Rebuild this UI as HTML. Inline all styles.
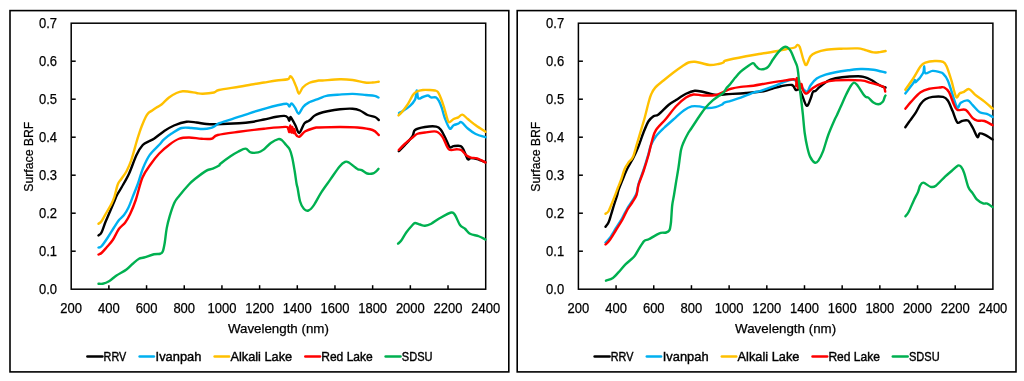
<!DOCTYPE html>
<html><head><meta charset="utf-8"><style>
html,body{margin:0;padding:0;background:#fff;width:1024px;height:381px;overflow:hidden}
svg{display:block;will-change:transform}
text{font-family:"Liberation Sans", sans-serif;font-size:13px;fill:#000;stroke:#000;stroke-width:0.25px}
text.t{font-size:14.2px}
text.lg{stroke-width:0.4px}
</style></head><body>
<svg width="1024" height="381" viewBox="0 0 1024 381">
<rect width="1024" height="381" fill="#fff"/>
<rect x="10.0" y="10.6" width="498.8" height="361.3" fill="none" stroke="#000" stroke-width="1.6"/>
<rect x="71.2" y="23.2" width="414.5" height="266.0" fill="none" stroke="#000" stroke-width="1.5"/>
<text class="t" x="57.0" y="294.10" text-anchor="end" textLength="18.1" lengthAdjust="spacingAndGlyphs">0.0</text>
<line x1="71.2" y1="251.20" x2="75.7" y2="251.20" stroke="#000" stroke-width="1.5"/>
<text class="t" x="57.0" y="256.10" text-anchor="end" textLength="18.1" lengthAdjust="spacingAndGlyphs">0.1</text>
<line x1="71.2" y1="213.20" x2="75.7" y2="213.20" stroke="#000" stroke-width="1.5"/>
<text class="t" x="57.0" y="218.10" text-anchor="end" textLength="18.1" lengthAdjust="spacingAndGlyphs">0.2</text>
<line x1="71.2" y1="175.20" x2="75.7" y2="175.20" stroke="#000" stroke-width="1.5"/>
<text class="t" x="57.0" y="180.10" text-anchor="end" textLength="18.1" lengthAdjust="spacingAndGlyphs">0.3</text>
<line x1="71.2" y1="137.20" x2="75.7" y2="137.20" stroke="#000" stroke-width="1.5"/>
<text class="t" x="57.0" y="142.10" text-anchor="end" textLength="18.1" lengthAdjust="spacingAndGlyphs">0.4</text>
<line x1="71.2" y1="99.20" x2="75.7" y2="99.20" stroke="#000" stroke-width="1.5"/>
<text class="t" x="57.0" y="104.10" text-anchor="end" textLength="18.1" lengthAdjust="spacingAndGlyphs">0.5</text>
<line x1="71.2" y1="61.20" x2="75.7" y2="61.20" stroke="#000" stroke-width="1.5"/>
<text class="t" x="57.0" y="66.10" text-anchor="end" textLength="18.1" lengthAdjust="spacingAndGlyphs">0.6</text>
<text class="t" x="57.0" y="28.10" text-anchor="end" textLength="18.1" lengthAdjust="spacingAndGlyphs">0.7</text>
<text class="t" x="71.20" y="312.9" text-anchor="middle" textLength="21.7" lengthAdjust="spacingAndGlyphs">200</text>
<line x1="108.88" y1="289.2" x2="108.88" y2="285.2" stroke="#000" stroke-width="1.5"/>
<text class="t" x="108.88" y="312.9" text-anchor="middle" textLength="21.7" lengthAdjust="spacingAndGlyphs">400</text>
<line x1="146.56" y1="289.2" x2="146.56" y2="285.2" stroke="#000" stroke-width="1.5"/>
<text class="t" x="146.56" y="312.9" text-anchor="middle" textLength="21.7" lengthAdjust="spacingAndGlyphs">600</text>
<line x1="184.25" y1="289.2" x2="184.25" y2="285.2" stroke="#000" stroke-width="1.5"/>
<text class="t" x="184.25" y="312.9" text-anchor="middle" textLength="21.7" lengthAdjust="spacingAndGlyphs">800</text>
<line x1="221.93" y1="289.2" x2="221.93" y2="285.2" stroke="#000" stroke-width="1.5"/>
<text class="t" x="221.93" y="312.9" text-anchor="middle" textLength="28.9" lengthAdjust="spacingAndGlyphs">1000</text>
<line x1="259.61" y1="289.2" x2="259.61" y2="285.2" stroke="#000" stroke-width="1.5"/>
<text class="t" x="259.61" y="312.9" text-anchor="middle" textLength="28.9" lengthAdjust="spacingAndGlyphs">1200</text>
<line x1="297.29" y1="289.2" x2="297.29" y2="285.2" stroke="#000" stroke-width="1.5"/>
<text class="t" x="297.29" y="312.9" text-anchor="middle" textLength="28.9" lengthAdjust="spacingAndGlyphs">1400</text>
<line x1="334.97" y1="289.2" x2="334.97" y2="285.2" stroke="#000" stroke-width="1.5"/>
<text class="t" x="334.97" y="312.9" text-anchor="middle" textLength="28.9" lengthAdjust="spacingAndGlyphs">1600</text>
<line x1="372.65" y1="289.2" x2="372.65" y2="285.2" stroke="#000" stroke-width="1.5"/>
<text class="t" x="372.65" y="312.9" text-anchor="middle" textLength="28.9" lengthAdjust="spacingAndGlyphs">1800</text>
<line x1="410.34" y1="289.2" x2="410.34" y2="285.2" stroke="#000" stroke-width="1.5"/>
<text class="t" x="410.34" y="312.9" text-anchor="middle" textLength="28.9" lengthAdjust="spacingAndGlyphs">2000</text>
<line x1="448.02" y1="289.2" x2="448.02" y2="285.2" stroke="#000" stroke-width="1.5"/>
<text class="t" x="448.02" y="312.9" text-anchor="middle" textLength="28.9" lengthAdjust="spacingAndGlyphs">2200</text>
<text class="t" x="485.70" y="312.9" text-anchor="middle" textLength="28.9" lengthAdjust="spacingAndGlyphs">2400</text>
<text x="278.4" y="332.9" text-anchor="middle" textLength="101" lengthAdjust="spacingAndGlyphs">Wavelength (nm)</text>
<text transform="translate(33.0,156.7) rotate(-90)" text-anchor="middle" textLength="70" lengthAdjust="spacingAndGlyphs">Surface BRF</text>
<line x1="87.40" y1="356.5" x2="102.40" y2="356.5" stroke="#000000" stroke-width="2.5" stroke-linecap="round"/>
<text class="lg" x="103.6" y="361.0" textLength="22.6" lengthAdjust="spacingAndGlyphs">RRV</text>
<line x1="139.60" y1="356.5" x2="153.90" y2="356.5" stroke="#00B0F0" stroke-width="2.5" stroke-linecap="round"/>
<text class="lg" x="155.6" y="361.0" textLength="45.8" lengthAdjust="spacingAndGlyphs">Ivanpah</text>
<line x1="214.60" y1="356.5" x2="229.10" y2="356.5" stroke="#FFC000" stroke-width="2.5" stroke-linecap="round"/>
<text class="lg" x="230.4" y="361.0" textLength="61.8" lengthAdjust="spacingAndGlyphs">Alkali Lake</text>
<line x1="305.30" y1="356.5" x2="320.00" y2="356.5" stroke="#FF0000" stroke-width="2.5" stroke-linecap="round"/>
<text class="lg" x="321.2" y="361.0" textLength="51.6" lengthAdjust="spacingAndGlyphs">Red Lake</text>
<line x1="385.60" y1="356.5" x2="400.50" y2="356.5" stroke="#00B050" stroke-width="2.5" stroke-linecap="round"/>
<text class="lg" x="401.8" y="361.0" textLength="30.7" lengthAdjust="spacingAndGlyphs">SDSU</text>
<path d="M98.50 235.50 C99.00 235.00 100.38 234.67 101.50 232.50 C102.62 230.33 104.00 225.62 105.25 222.50 C106.50 219.38 107.75 216.67 109.00 213.75 C110.25 210.83 111.77 207.29 112.75 205.00 C113.73 202.71 114.19 201.67 114.90 200.00 C115.61 198.33 115.90 197.08 117.00 195.00 C118.10 192.92 119.50 191.04 121.50 187.50 C123.50 183.96 126.50 179.17 129.00 173.75 C131.50 168.33 134.21 159.79 136.50 155.00 C138.79 150.21 140.67 147.29 142.75 145.00 C144.83 142.71 147.12 142.29 149.00 141.25 C150.88 140.21 151.50 140.42 154.00 138.75 C156.50 137.08 160.67 133.46 164.00 131.25 C167.33 129.04 170.25 127.08 174.00 125.50 C177.75 123.92 182.75 122.25 186.50 121.75 C190.25 121.25 193.17 122.12 196.50 122.50 C199.83 122.88 203.17 123.71 206.50 124.00 C209.83 124.29 211.08 124.38 216.50 124.25 C221.92 124.12 233.17 123.62 239.00 123.25 C244.83 122.88 247.33 122.62 251.50 122.00 C255.67 121.38 259.83 120.38 264.00 119.50 C268.17 118.62 273.12 117.35 276.50 116.75 C279.88 116.15 282.43 115.78 284.30 115.90 C286.17 116.03 286.87 116.68 287.70 117.50 C288.53 118.32 288.85 120.88 289.30 120.80 C289.75 120.72 289.95 117.27 290.40 117.00 C290.85 116.73 291.15 117.78 292.00 119.20 C292.85 120.62 294.30 123.20 295.50 125.50 C296.70 127.80 297.75 133.32 299.20 133.00 C300.65 132.68 302.82 125.53 304.20 123.60 C305.58 121.67 306.58 121.95 307.50 121.40 C308.42 120.85 308.58 121.22 309.70 120.30 C310.82 119.38 312.65 117.03 314.20 115.90 C315.75 114.77 316.78 114.28 319.00 113.50 C321.22 112.72 324.00 111.96 327.50 111.25 C331.00 110.54 335.83 109.67 340.00 109.25 C344.17 108.83 349.17 108.54 352.50 108.75 C355.83 108.96 357.50 109.46 360.00 110.50 C362.50 111.54 365.00 113.92 367.50 115.00 C370.00 116.08 373.12 116.17 375.00 117.00 C376.88 117.83 378.12 119.50 378.75 120.00" fill="none" stroke="#000000" stroke-width="2.4" stroke-linejoin="round" stroke-linecap="round"/>
<path d="M398.75 151.25 C399.79 150.21 402.71 147.50 405.00 145.00 C407.29 142.50 410.83 138.75 412.50 136.25 C414.17 133.75 412.92 131.54 415.00 130.00 C417.08 128.46 421.45 127.57 425.00 127.00 C428.55 126.43 433.63 126.10 436.30 126.60 C438.97 127.10 439.43 127.98 441.00 130.00 C442.57 132.02 444.25 135.85 445.70 138.70 C447.15 141.55 448.38 145.87 449.70 147.10 C451.02 148.33 451.77 146.27 453.60 146.10 C455.43 145.93 458.98 145.37 460.70 146.10 C462.42 146.83 462.72 148.32 463.90 150.50 C465.08 152.68 466.63 157.93 467.80 159.20 C468.97 160.47 469.33 158.10 470.90 158.10 C472.47 158.10 474.77 158.48 477.20 159.20 C479.63 159.92 484.12 161.87 485.50 162.40" fill="none" stroke="#000000" stroke-width="2.4" stroke-linejoin="round" stroke-linecap="round"/>
<path d="M98.50 247.50 C99.00 247.29 99.96 247.92 101.50 246.25 C103.04 244.58 105.67 240.62 107.75 237.50 C109.83 234.38 112.12 230.42 114.00 227.50 C115.88 224.58 117.33 222.08 119.00 220.00 C120.67 217.92 122.42 217.08 124.00 215.00 C125.58 212.92 127.07 210.48 128.50 207.50 C129.93 204.52 131.05 201.02 132.60 197.10 C134.15 193.18 136.07 188.82 137.80 184.00 C139.53 179.18 141.03 173.02 143.00 168.20 C144.97 163.38 146.93 158.97 149.60 155.10 C152.27 151.23 156.60 147.62 159.00 145.00 C161.40 142.38 161.90 141.30 164.00 139.40 C166.10 137.50 168.67 135.50 171.60 133.60 C174.53 131.70 178.25 128.93 181.60 128.00 C184.95 127.07 188.12 127.83 191.70 128.00 C195.28 128.17 199.85 129.03 203.10 129.00 C206.35 128.97 209.27 128.28 211.20 127.80 C213.13 127.32 213.35 126.87 214.70 126.10 C216.05 125.33 216.42 124.37 219.30 123.20 C222.18 122.03 226.98 120.75 232.00 119.10 C237.02 117.45 243.62 115.13 249.40 113.30 C255.18 111.47 262.17 109.40 266.70 108.10 C271.23 106.80 273.28 106.23 276.60 105.50 C279.92 104.77 284.48 103.53 286.60 103.70 C288.72 103.87 288.57 106.50 289.30 106.50 C290.03 106.50 290.45 104.07 291.00 103.70 C291.55 103.33 291.85 103.50 292.60 104.30 C293.35 105.10 294.48 106.93 295.50 108.50 C296.52 110.07 297.43 113.95 298.70 113.70 C299.97 113.45 301.45 108.85 303.10 107.00 C304.75 105.15 305.95 104.00 308.60 102.60 C311.25 101.20 316.03 99.72 319.00 98.60 C321.97 97.48 322.98 96.57 326.40 95.90 C329.82 95.23 335.12 94.93 339.50 94.60 C343.88 94.27 348.30 93.83 352.70 93.90 C357.10 93.97 362.23 94.67 365.90 95.00 C369.57 95.33 372.60 95.48 374.70 95.90 C376.80 96.32 377.87 97.23 378.50 97.50" fill="none" stroke="#00B0F0" stroke-width="2.4" stroke-linejoin="round" stroke-linecap="round"/>
<path d="M399.00 113.00 C399.67 112.65 401.17 112.08 403.00 110.90 C404.83 109.72 408.02 107.73 410.00 105.90 C411.98 104.07 413.87 101.88 414.90 99.90 C415.93 97.92 415.87 95.57 416.20 94.00 C416.53 92.43 416.53 89.77 416.90 90.50 C417.27 91.23 417.40 97.32 418.40 98.40 C419.40 99.48 421.32 97.48 422.90 97.00 C424.48 96.52 426.57 95.43 427.90 95.50 C429.23 95.57 429.57 97.08 430.90 97.40 C432.23 97.72 434.57 96.82 435.90 97.40 C437.23 97.98 437.92 99.15 438.90 100.90 C439.88 102.65 440.82 105.05 441.80 107.90 C442.78 110.75 443.48 114.57 444.80 118.00 C446.12 121.43 448.23 127.28 449.70 128.50 C451.17 129.72 452.17 126.10 453.60 125.30 C455.03 124.50 456.98 124.22 458.30 123.70 C459.62 123.18 459.92 121.40 461.50 122.20 C463.08 123.00 465.43 126.53 467.80 128.50 C470.17 130.47 472.75 132.55 475.70 134.00 C478.65 135.45 483.87 136.67 485.50 137.20" fill="none" stroke="#00B0F0" stroke-width="2.4" stroke-linejoin="round" stroke-linecap="round"/>
<path d="M98.50 223.75 C99.00 223.33 100.17 223.12 101.50 221.25 C102.83 219.38 104.83 215.42 106.50 212.50 C108.17 209.58 110.17 206.42 111.50 203.75 C112.83 201.08 113.46 199.71 114.50 196.50 C115.54 193.29 116.58 187.46 117.75 184.50 C118.92 181.54 120.04 180.96 121.50 178.75 C122.96 176.54 124.88 174.31 126.50 171.25 C128.12 168.19 129.53 165.28 131.20 160.40 C132.87 155.53 135.20 146.40 136.50 142.00 C137.80 137.60 138.13 136.63 139.00 134.00 C139.87 131.37 140.58 129.03 141.70 126.20 C142.82 123.37 144.60 119.18 145.70 117.00 C146.80 114.82 147.22 114.18 148.30 113.10 C149.38 112.02 150.83 111.43 152.20 110.50 C153.57 109.57 154.95 108.50 156.50 107.50 C158.05 106.50 159.42 106.17 161.50 104.50 C163.58 102.83 166.50 99.42 169.00 97.50 C171.50 95.58 174.21 94.04 176.50 93.00 C178.79 91.96 180.67 91.46 182.75 91.25 C184.83 91.04 186.71 91.46 189.00 91.75 C191.29 92.04 194.21 92.67 196.50 93.00 C198.79 93.33 199.83 93.83 202.75 93.75 C205.67 93.67 211.29 93.12 214.00 92.50 C216.71 91.88 214.83 90.96 219.00 90.00 C223.17 89.04 233.58 87.67 239.00 86.75 C244.42 85.83 247.33 85.21 251.50 84.50 C255.67 83.79 259.83 83.17 264.00 82.50 C268.17 81.83 272.54 81.04 276.50 80.50 C280.46 79.96 285.46 79.96 287.75 79.25 C290.04 78.54 289.42 76.33 290.25 76.25 C291.08 76.17 291.71 76.88 292.75 78.75 C293.79 80.62 295.46 85.00 296.50 87.50 C297.54 90.00 297.96 93.75 299.00 93.75 C300.04 93.75 301.08 89.29 302.75 87.50 C304.42 85.71 306.29 84.17 309.00 83.00 C311.71 81.83 316.75 80.92 319.00 80.50 C321.25 80.08 319.00 80.71 322.50 80.50 C326.00 80.29 335.00 79.33 340.00 79.25 C345.00 79.17 348.33 79.46 352.50 80.00 C356.67 80.54 361.67 82.08 365.00 82.50 C368.33 82.92 370.21 82.62 372.50 82.50 C374.79 82.38 377.71 81.88 378.75 81.75" fill="none" stroke="#FFC000" stroke-width="2.4" stroke-linejoin="round" stroke-linecap="round"/>
<path d="M398.50 115.40 C399.08 114.82 400.42 113.82 402.00 111.90 C403.58 109.98 406.18 106.72 408.00 103.90 C409.82 101.08 411.42 97.07 412.90 95.00 C414.38 92.93 415.23 92.33 416.90 91.50 C418.57 90.67 420.73 90.25 422.90 90.00 C425.07 89.75 427.90 89.92 429.90 90.00 C431.90 90.08 433.57 90.17 434.90 90.50 C436.23 90.83 436.92 90.75 437.90 92.00 C438.88 93.25 439.82 95.58 440.80 98.00 C441.78 100.42 442.85 103.50 443.80 106.50 C444.75 109.50 445.65 113.38 446.50 116.00 C447.35 118.62 447.72 121.70 448.90 122.20 C450.08 122.70 452.03 119.80 453.60 119.00 C455.17 118.20 456.85 118.13 458.30 117.40 C459.75 116.67 460.72 114.33 462.30 114.60 C463.88 114.87 465.57 117.22 467.80 119.00 C470.03 120.78 472.75 123.17 475.70 125.30 C478.65 127.43 483.87 130.72 485.50 131.80" fill="none" stroke="#FFC000" stroke-width="2.4" stroke-linejoin="round" stroke-linecap="round"/>
<path d="M98.50 254.50 C99.00 254.25 100.17 254.17 101.50 253.00 C102.83 251.83 104.62 249.67 106.50 247.50 C108.38 245.33 110.67 243.12 112.75 240.00 C114.83 236.88 116.92 231.67 119.00 228.75 C121.08 225.83 123.38 225.00 125.25 222.50 C127.12 220.00 128.50 217.50 130.25 213.75 C132.00 210.00 133.71 206.04 135.75 200.00 C137.79 193.96 140.04 183.42 142.50 177.50 C144.96 171.58 147.75 168.46 150.50 164.50 C153.25 160.54 155.92 157.00 159.00 153.75 C162.08 150.50 165.67 147.50 169.00 145.00 C172.33 142.50 175.67 140.00 179.00 138.75 C182.33 137.50 185.25 137.50 189.00 137.50 C192.75 137.50 197.75 138.54 201.50 138.75 C205.25 138.96 208.79 139.38 211.50 138.75 C214.21 138.12 213.17 136.17 217.75 135.00 C222.33 133.83 231.29 132.79 239.00 131.75 C246.71 130.71 256.25 129.56 264.00 128.75 C271.75 127.94 281.47 126.84 285.50 126.90 C289.53 126.96 287.57 128.25 288.20 129.10 C288.83 129.95 288.93 132.60 289.30 132.00 C289.67 131.40 290.05 125.42 290.40 125.50 C290.75 125.58 291.07 132.25 291.40 132.50 C291.73 132.75 292.07 126.92 292.40 127.00 C292.73 127.08 293.07 132.67 293.40 133.00 C293.73 133.33 294.05 128.83 294.40 129.00 C294.75 129.17 294.70 132.70 295.50 134.00 C296.30 135.30 297.57 137.25 299.20 136.80 C300.83 136.35 302.80 132.77 305.30 131.30 C307.80 129.83 311.92 128.63 314.20 128.00 C316.48 127.37 314.70 127.67 319.00 127.50 C323.30 127.33 333.58 127.00 340.00 127.00 C346.42 127.00 352.08 127.00 357.50 127.50 C362.92 128.00 368.96 128.75 372.50 130.00 C376.04 131.25 377.71 134.17 378.75 135.00" fill="none" stroke="#FF0000" stroke-width="2.4" stroke-linejoin="round" stroke-linecap="round"/>
<path d="M398.75 150.00 C399.79 148.96 402.71 145.83 405.00 143.75 C407.29 141.67 410.42 139.17 412.50 137.50 C414.58 135.83 415.42 134.58 417.50 133.75 C419.58 132.92 421.87 132.86 425.00 132.50 C428.13 132.14 433.37 130.83 436.30 131.60 C439.23 132.37 440.50 134.15 442.60 137.10 C444.70 140.05 446.53 147.27 448.90 149.30 C451.27 151.33 454.70 149.15 456.80 149.30 C458.90 149.45 459.93 149.22 461.50 150.20 C463.07 151.18 464.63 153.97 466.20 155.20 C467.77 156.43 469.07 157.07 470.90 157.60 C472.73 158.13 474.77 157.60 477.20 158.40 C479.63 159.20 484.12 161.73 485.50 162.40" fill="none" stroke="#FF0000" stroke-width="2.4" stroke-linejoin="round" stroke-linecap="round"/>
<path d="M98.50 283.75 C99.21 283.75 101.00 284.17 102.75 283.75 C104.50 283.33 106.71 282.62 109.00 281.25 C111.29 279.88 113.58 277.46 116.50 275.50 C119.42 273.54 123.79 271.46 126.50 269.50 C129.21 267.54 130.67 265.54 132.75 263.75 C134.83 261.96 137.12 259.79 139.00 258.75 C140.88 257.71 141.50 258.25 144.00 257.50 C146.50 256.75 151.29 254.88 154.00 254.25 C156.71 253.62 158.79 254.21 160.25 253.75 C161.71 253.29 162.01 253.29 162.75 251.50 C163.49 249.71 164.04 246.85 164.70 243.00 C165.36 239.15 165.87 232.88 166.70 228.40 C167.53 223.92 168.40 220.42 169.70 216.10 C171.00 211.78 172.87 205.93 174.50 202.50 C176.13 199.07 177.10 198.50 179.50 195.50 C181.90 192.50 186.28 187.28 188.90 184.50 C191.52 181.72 192.27 181.12 195.20 178.80 C198.13 176.48 203.57 172.28 206.50 170.60 C209.43 168.92 210.70 169.53 212.80 168.70 C214.90 167.87 217.83 166.43 219.10 165.60 C220.37 164.77 218.50 165.27 220.40 163.70 C222.30 162.13 227.57 158.20 230.50 156.20 C233.43 154.20 235.48 152.97 238.00 151.70 C240.52 150.43 243.50 148.48 245.60 148.60 C247.70 148.72 248.50 151.77 250.60 152.40 C252.70 153.03 256.10 152.82 258.20 152.40 C260.30 151.98 261.10 151.48 263.20 149.90 C265.30 148.32 268.28 144.70 270.80 142.90 C273.32 141.10 276.42 139.52 278.30 139.10 C280.18 138.68 280.83 139.45 282.10 140.40 C283.37 141.35 284.65 143.33 285.90 144.80 C287.15 146.27 288.55 147.10 289.60 149.20 C290.65 151.30 291.35 153.72 292.20 157.40 C293.05 161.08 293.97 166.87 294.70 171.30 C295.43 175.73 296.12 181.22 296.60 184.00 C297.08 186.78 297.02 185.08 297.60 188.00 C298.18 190.92 299.07 198.03 300.10 201.50 C301.13 204.97 302.42 207.30 303.80 208.80 C305.18 210.30 306.72 211.12 308.40 210.50 C310.08 209.88 311.75 208.13 313.90 205.10 C316.05 202.07 318.55 196.58 321.30 192.30 C324.05 188.02 327.35 183.70 330.40 179.40 C333.45 175.10 337.15 169.42 339.60 166.50 C342.05 163.58 343.57 162.57 345.10 161.90 C346.63 161.23 347.15 161.60 348.80 162.50 C350.45 163.40 353.47 166.17 355.00 167.30 C356.53 168.43 356.88 168.82 358.00 169.30 C359.12 169.78 360.17 169.50 361.70 170.20 C363.23 170.90 365.37 172.95 367.20 173.50 C369.03 174.05 371.17 173.90 372.70 173.50 C374.23 173.10 375.43 171.88 376.40 171.10 C377.37 170.32 378.15 169.18 378.50 168.80" fill="none" stroke="#00B050" stroke-width="2.4" stroke-linejoin="round" stroke-linecap="round"/>
<path d="M398.00 243.75 C398.54 243.21 399.88 242.38 401.25 240.50 C402.62 238.62 404.38 235.08 406.25 232.50 C408.12 229.92 411.04 226.58 412.50 225.00 C413.96 223.42 413.75 223.08 415.00 223.00 C416.25 222.92 418.33 224.04 420.00 224.50 C421.67 224.96 423.12 225.88 425.00 225.75 C426.88 225.62 428.75 225.04 431.25 223.75 C433.75 222.46 436.67 219.88 440.00 218.00 C443.33 216.12 448.75 213.00 451.25 212.50 C453.75 212.00 453.54 212.92 455.00 215.00 C456.46 217.08 458.33 222.71 460.00 225.00 C461.67 227.29 463.33 227.29 465.00 228.75 C466.67 230.21 467.71 232.50 470.00 233.75 C472.29 235.00 476.17 235.29 478.75 236.25 C481.33 237.21 484.38 238.96 485.50 239.50" fill="none" stroke="#00B050" stroke-width="2.4" stroke-linejoin="round" stroke-linecap="round"/>
<rect x="517.2" y="10.6" width="498.8" height="361.3" fill="none" stroke="#000" stroke-width="1.6"/>
<rect x="578.4" y="23.2" width="414.5" height="266.0" fill="none" stroke="#000" stroke-width="1.5"/>
<text class="t" x="564.2" y="294.10" text-anchor="end" textLength="18.1" lengthAdjust="spacingAndGlyphs">0.0</text>
<line x1="578.4" y1="251.20" x2="582.9" y2="251.20" stroke="#000" stroke-width="1.5"/>
<text class="t" x="564.2" y="256.10" text-anchor="end" textLength="18.1" lengthAdjust="spacingAndGlyphs">0.1</text>
<line x1="578.4" y1="213.20" x2="582.9" y2="213.20" stroke="#000" stroke-width="1.5"/>
<text class="t" x="564.2" y="218.10" text-anchor="end" textLength="18.1" lengthAdjust="spacingAndGlyphs">0.2</text>
<line x1="578.4" y1="175.20" x2="582.9" y2="175.20" stroke="#000" stroke-width="1.5"/>
<text class="t" x="564.2" y="180.10" text-anchor="end" textLength="18.1" lengthAdjust="spacingAndGlyphs">0.3</text>
<line x1="578.4" y1="137.20" x2="582.9" y2="137.20" stroke="#000" stroke-width="1.5"/>
<text class="t" x="564.2" y="142.10" text-anchor="end" textLength="18.1" lengthAdjust="spacingAndGlyphs">0.4</text>
<line x1="578.4" y1="99.20" x2="582.9" y2="99.20" stroke="#000" stroke-width="1.5"/>
<text class="t" x="564.2" y="104.10" text-anchor="end" textLength="18.1" lengthAdjust="spacingAndGlyphs">0.5</text>
<line x1="578.4" y1="61.20" x2="582.9" y2="61.20" stroke="#000" stroke-width="1.5"/>
<text class="t" x="564.2" y="66.10" text-anchor="end" textLength="18.1" lengthAdjust="spacingAndGlyphs">0.6</text>
<text class="t" x="564.2" y="28.10" text-anchor="end" textLength="18.1" lengthAdjust="spacingAndGlyphs">0.7</text>
<text class="t" x="578.40" y="312.9" text-anchor="middle" textLength="21.7" lengthAdjust="spacingAndGlyphs">200</text>
<line x1="616.08" y1="289.2" x2="616.08" y2="285.2" stroke="#000" stroke-width="1.5"/>
<text class="t" x="616.08" y="312.9" text-anchor="middle" textLength="21.7" lengthAdjust="spacingAndGlyphs">400</text>
<line x1="653.76" y1="289.2" x2="653.76" y2="285.2" stroke="#000" stroke-width="1.5"/>
<text class="t" x="653.76" y="312.9" text-anchor="middle" textLength="21.7" lengthAdjust="spacingAndGlyphs">600</text>
<line x1="691.45" y1="289.2" x2="691.45" y2="285.2" stroke="#000" stroke-width="1.5"/>
<text class="t" x="691.45" y="312.9" text-anchor="middle" textLength="21.7" lengthAdjust="spacingAndGlyphs">800</text>
<line x1="729.13" y1="289.2" x2="729.13" y2="285.2" stroke="#000" stroke-width="1.5"/>
<text class="t" x="729.13" y="312.9" text-anchor="middle" textLength="28.9" lengthAdjust="spacingAndGlyphs">1000</text>
<line x1="766.81" y1="289.2" x2="766.81" y2="285.2" stroke="#000" stroke-width="1.5"/>
<text class="t" x="766.81" y="312.9" text-anchor="middle" textLength="28.9" lengthAdjust="spacingAndGlyphs">1200</text>
<line x1="804.49" y1="289.2" x2="804.49" y2="285.2" stroke="#000" stroke-width="1.5"/>
<text class="t" x="804.49" y="312.9" text-anchor="middle" textLength="28.9" lengthAdjust="spacingAndGlyphs">1400</text>
<line x1="842.17" y1="289.2" x2="842.17" y2="285.2" stroke="#000" stroke-width="1.5"/>
<text class="t" x="842.17" y="312.9" text-anchor="middle" textLength="28.9" lengthAdjust="spacingAndGlyphs">1600</text>
<line x1="879.85" y1="289.2" x2="879.85" y2="285.2" stroke="#000" stroke-width="1.5"/>
<text class="t" x="879.85" y="312.9" text-anchor="middle" textLength="28.9" lengthAdjust="spacingAndGlyphs">1800</text>
<line x1="917.54" y1="289.2" x2="917.54" y2="285.2" stroke="#000" stroke-width="1.5"/>
<text class="t" x="917.54" y="312.9" text-anchor="middle" textLength="28.9" lengthAdjust="spacingAndGlyphs">2000</text>
<line x1="955.22" y1="289.2" x2="955.22" y2="285.2" stroke="#000" stroke-width="1.5"/>
<text class="t" x="955.22" y="312.9" text-anchor="middle" textLength="28.9" lengthAdjust="spacingAndGlyphs">2200</text>
<text class="t" x="992.90" y="312.9" text-anchor="middle" textLength="28.9" lengthAdjust="spacingAndGlyphs">2400</text>
<text x="785.5999999999999" y="332.9" text-anchor="middle" textLength="101" lengthAdjust="spacingAndGlyphs">Wavelength (nm)</text>
<text transform="translate(540.2,156.7) rotate(-90)" text-anchor="middle" textLength="70" lengthAdjust="spacingAndGlyphs">Surface BRF</text>
<line x1="594.60" y1="356.5" x2="609.60" y2="356.5" stroke="#000000" stroke-width="2.5" stroke-linecap="round"/>
<text class="lg" x="610.8" y="361.0" textLength="22.6" lengthAdjust="spacingAndGlyphs">RRV</text>
<line x1="646.80" y1="356.5" x2="661.10" y2="356.5" stroke="#00B0F0" stroke-width="2.5" stroke-linecap="round"/>
<text class="lg" x="662.8" y="361.0" textLength="45.8" lengthAdjust="spacingAndGlyphs">Ivanpah</text>
<line x1="721.80" y1="356.5" x2="736.30" y2="356.5" stroke="#FFC000" stroke-width="2.5" stroke-linecap="round"/>
<text class="lg" x="737.6" y="361.0" textLength="61.8" lengthAdjust="spacingAndGlyphs">Alkali Lake</text>
<line x1="812.50" y1="356.5" x2="827.20" y2="356.5" stroke="#FF0000" stroke-width="2.5" stroke-linecap="round"/>
<text class="lg" x="828.4" y="361.0" textLength="51.6" lengthAdjust="spacingAndGlyphs">Red Lake</text>
<line x1="892.80" y1="356.5" x2="907.70" y2="356.5" stroke="#00B050" stroke-width="2.5" stroke-linecap="round"/>
<text class="lg" x="909.0" y="361.0" textLength="30.7" lengthAdjust="spacingAndGlyphs">SDSU</text>
<path d="M605.50 226.75 C606.00 226.04 607.58 224.46 608.50 222.50 C609.42 220.54 610.08 217.92 611.00 215.00 C611.92 212.08 612.96 208.33 614.00 205.00 C615.04 201.67 616.50 197.50 617.25 195.00 C618.00 192.50 617.46 192.92 618.50 190.00 C619.54 187.08 622.04 181.04 623.50 177.50 C624.96 173.96 625.58 172.08 627.25 168.75 C628.92 165.42 631.62 161.25 633.50 157.50 C635.38 153.75 636.83 150.42 638.50 146.25 C640.17 142.08 641.83 136.67 643.50 132.50 C645.17 128.33 646.83 123.96 648.50 121.25 C650.17 118.54 651.83 117.38 653.50 116.25 C655.17 115.12 656.00 116.38 658.50 114.50 C661.00 112.62 665.58 107.42 668.50 105.00 C671.42 102.58 673.08 101.88 676.00 100.00 C678.92 98.12 682.88 95.29 686.00 93.75 C689.12 92.21 691.83 91.04 694.75 90.75 C697.67 90.46 699.96 91.29 703.50 92.00 C707.04 92.71 712.25 94.62 716.00 95.00 C719.75 95.38 721.00 94.58 726.00 94.25 C731.00 93.92 739.75 93.50 746.00 93.00 C752.25 92.50 759.17 91.96 763.50 91.25 C767.83 90.54 769.08 89.58 772.00 88.75 C774.92 87.92 777.67 86.88 781.00 86.25 C784.33 85.62 789.54 84.38 792.00 85.00 C794.46 85.62 794.58 89.33 795.75 90.00 C796.92 90.67 797.96 88.17 799.00 89.00 C800.04 89.83 800.73 92.20 802.00 95.00 C803.27 97.80 805.20 105.08 806.60 105.80 C808.00 106.52 809.35 101.60 810.40 99.30 C811.45 97.00 812.07 93.37 812.90 92.00 C813.73 90.63 814.57 91.67 815.40 91.10 C816.23 90.53 816.63 89.75 817.90 88.60 C819.17 87.45 820.90 85.68 823.00 84.20 C825.10 82.72 827.35 80.87 830.50 79.70 C833.65 78.53 837.28 77.77 841.90 77.20 C846.52 76.63 854.43 76.30 858.20 76.30 C861.97 76.30 862.40 76.63 864.50 77.20 C866.60 77.77 868.90 78.75 870.80 79.70 C872.70 80.65 874.20 81.85 875.90 82.90 C877.60 83.95 879.40 85.23 881.00 86.00 C882.60 86.77 884.75 87.25 885.50 87.50" fill="none" stroke="#000000" stroke-width="2.4" stroke-linejoin="round" stroke-linecap="round"/>
<path d="M905.30 127.20 C906.08 126.10 908.23 123.08 910.00 120.60 C911.77 118.12 914.13 115.07 915.90 112.30 C917.67 109.53 919.02 106.17 920.60 104.00 C922.18 101.83 923.42 100.48 925.40 99.30 C927.38 98.12 929.55 97.30 932.50 96.90 C935.45 96.50 940.55 96.30 943.10 96.90 C945.65 97.50 946.22 98.13 947.80 100.50 C949.38 102.87 951.02 107.45 952.60 111.10 C954.18 114.75 955.73 120.75 957.30 122.40 C958.87 124.05 960.23 121.30 962.00 121.00 C963.77 120.70 966.12 119.48 967.90 120.60 C969.68 121.72 971.12 124.95 972.70 127.70 C974.28 130.45 976.23 136.13 977.40 137.10 C978.57 138.07 978.52 133.90 979.70 133.50 C980.88 133.10 982.33 133.70 984.50 134.70 C986.67 135.70 991.33 138.70 992.70 139.50" fill="none" stroke="#000000" stroke-width="2.4" stroke-linejoin="round" stroke-linecap="round"/>
<path d="M605.50 242.50 C606.21 241.75 608.00 240.42 609.75 238.00 C611.50 235.58 613.92 231.33 616.00 228.00 C618.08 224.67 620.38 221.25 622.25 218.00 C624.12 214.75 625.58 211.33 627.25 208.50 C628.92 205.67 630.71 203.50 632.25 201.00 C633.79 198.50 635.46 196.33 636.50 193.50 C637.54 190.67 637.33 187.92 638.50 184.00 C639.67 180.08 641.83 175.04 643.50 170.00 C645.17 164.96 647.25 157.92 648.50 153.75 C649.75 149.58 649.75 147.92 651.00 145.00 C652.25 142.08 653.85 139.08 656.00 136.25 C658.15 133.42 660.68 131.07 663.90 128.00 C667.12 124.92 671.93 120.77 675.30 117.80 C678.67 114.83 681.38 112.10 684.10 110.20 C686.82 108.30 689.08 107.03 691.60 106.40 C694.12 105.77 696.67 106.13 699.20 106.40 C701.73 106.67 704.07 107.88 706.80 108.00 C709.53 108.12 713.08 107.67 715.60 107.10 C718.12 106.53 720.43 105.33 721.90 104.60 C723.37 103.87 722.93 103.33 724.40 102.70 C725.87 102.07 727.97 101.65 730.70 100.80 C733.43 99.95 737.02 98.97 740.80 97.60 C744.58 96.23 750.20 93.68 753.40 92.60 C756.60 91.52 756.80 92.08 760.00 91.10 C763.20 90.12 768.40 88.28 772.60 86.70 C776.80 85.12 782.05 82.77 785.20 81.60 C788.35 80.43 789.82 79.90 791.50 79.70 C793.18 79.50 794.22 79.85 795.30 80.40 C796.38 80.95 796.12 81.13 798.00 83.00 C799.88 84.87 804.53 91.20 806.60 91.60 C808.67 92.00 808.72 87.58 810.40 85.40 C812.08 83.22 814.18 80.28 816.70 78.50 C819.22 76.72 822.35 75.75 825.50 74.70 C828.65 73.65 831.82 72.93 835.60 72.20 C839.38 71.47 844.00 70.83 848.20 70.30 C852.40 69.77 856.60 69.10 860.80 69.00 C865.00 68.90 869.28 69.12 873.40 69.70 C877.52 70.28 883.48 72.03 885.50 72.50" fill="none" stroke="#00B0F0" stroke-width="2.4" stroke-linejoin="round" stroke-linecap="round"/>
<path d="M905.30 93.40 C906.67 91.62 911.93 84.95 913.50 82.70 C915.07 80.45 914.32 80.02 914.70 79.90 C915.08 79.78 914.42 83.10 915.80 82.00 C917.18 80.90 921.60 75.93 923.00 73.30 C924.40 70.67 923.80 66.20 924.20 66.20 C924.60 66.20 924.02 72.52 925.40 73.30 C926.78 74.08 930.13 71.10 932.50 70.90 C934.87 70.70 937.83 71.63 939.60 72.10 C941.37 72.57 941.73 72.32 943.10 73.70 C944.47 75.08 946.22 76.92 947.80 80.40 C949.38 83.88 951.02 90.07 952.60 94.60 C954.18 99.13 955.93 106.23 957.30 107.60 C958.67 108.97 959.03 103.98 960.80 102.80 C962.57 101.62 965.92 100.10 967.90 100.50 C969.88 100.90 970.73 103.23 972.70 105.20 C974.67 107.17 977.35 110.85 979.70 112.30 C982.05 113.75 984.63 113.12 986.80 113.90 C988.97 114.68 991.72 116.48 992.70 117.00" fill="none" stroke="#00B0F0" stroke-width="2.4" stroke-linejoin="round" stroke-linecap="round"/>
<path d="M605.50 213.75 C606.00 213.33 607.38 213.12 608.50 211.25 C609.62 209.38 611.17 205.12 612.25 202.50 C613.33 199.88 614.04 198.00 615.00 195.50 C615.96 193.00 617.00 190.08 618.00 187.50 C619.00 184.92 619.88 183.12 621.00 180.00 C622.12 176.88 623.50 171.67 624.75 168.75 C626.00 165.83 627.14 164.44 628.50 162.50 C629.86 160.56 631.50 160.18 632.90 157.10 C634.30 154.02 635.58 148.37 636.90 144.00 C638.22 139.63 639.50 135.28 640.80 130.90 C642.10 126.52 643.38 122.52 644.70 117.70 C646.02 112.88 647.60 105.93 648.70 102.00 C649.80 98.07 650.22 96.50 651.30 94.10 C652.38 91.70 653.17 89.87 655.20 87.60 C657.23 85.33 660.45 83.02 663.50 80.50 C666.55 77.98 670.38 74.88 673.50 72.50 C676.62 70.12 679.75 67.92 682.25 66.25 C684.75 64.58 686.42 63.25 688.50 62.50 C690.58 61.75 692.67 61.67 694.75 61.75 C696.83 61.83 698.50 62.46 701.00 63.00 C703.50 63.54 706.83 64.83 709.75 65.00 C712.67 65.17 716.21 64.42 718.50 64.00 C720.79 63.58 722.25 63.08 723.50 62.50 C724.75 61.92 722.25 61.54 726.00 60.50 C729.75 59.46 740.17 57.38 746.00 56.25 C751.83 55.12 756.00 54.58 761.00 53.75 C766.00 52.92 771.83 52.00 776.00 51.25 C780.17 50.50 782.88 49.88 786.00 49.25 C789.12 48.62 792.88 48.21 794.75 47.50 C796.62 46.79 796.42 45.08 797.25 45.00 C798.08 44.92 798.71 44.50 799.75 47.00 C800.79 49.50 802.41 57.00 803.50 60.00 C804.59 63.00 805.13 65.62 806.30 65.00 C807.47 64.38 808.92 58.37 810.50 56.30 C812.08 54.23 813.17 53.70 815.80 52.60 C818.43 51.50 821.93 50.35 826.30 49.70 C830.67 49.05 836.75 48.92 842.00 48.70 C847.25 48.48 853.95 48.18 857.80 48.40 C861.65 48.62 862.48 49.33 865.10 50.00 C867.72 50.67 871.05 52.05 873.50 52.40 C875.95 52.75 877.78 52.33 879.80 52.10 C881.82 51.87 884.63 51.18 885.60 51.00" fill="none" stroke="#FFC000" stroke-width="2.4" stroke-linejoin="round" stroke-linecap="round"/>
<path d="M905.30 89.80 C906.67 87.83 910.95 81.93 913.50 78.00 C916.05 74.07 918.62 68.77 920.60 66.20 C922.58 63.63 923.03 63.47 925.40 62.60 C927.77 61.73 931.85 61.12 934.80 61.00 C937.75 60.88 941.13 61.03 943.10 61.90 C945.07 62.77 945.22 63.12 946.60 66.20 C947.98 69.28 949.82 75.28 951.40 80.40 C952.98 85.52 954.73 94.73 956.10 96.90 C957.47 99.07 958.42 94.18 959.60 93.40 C960.78 92.62 961.62 92.92 963.20 92.20 C964.78 91.48 967.13 88.70 969.10 89.10 C971.07 89.50 972.43 92.52 975.00 94.60 C977.57 96.68 981.55 99.25 984.50 101.60 C987.45 103.95 991.33 107.52 992.70 108.70" fill="none" stroke="#FFC000" stroke-width="2.4" stroke-linejoin="round" stroke-linecap="round"/>
<path d="M605.50 244.50 C606.21 243.75 608.00 242.42 609.75 240.00 C611.50 237.58 613.92 233.33 616.00 230.00 C618.08 226.67 620.38 223.33 622.25 220.00 C624.12 216.67 625.58 212.92 627.25 210.00 C628.92 207.08 630.71 205.00 632.25 202.50 C633.79 200.00 635.46 197.92 636.50 195.00 C637.54 192.08 637.33 188.96 638.50 185.00 C639.67 181.04 641.83 176.25 643.50 171.25 C645.17 166.25 647.04 160.21 648.50 155.00 C649.96 149.79 651.00 144.17 652.25 140.00 C653.50 135.83 653.71 133.54 656.00 130.00 C658.29 126.46 662.67 122.71 666.00 118.75 C669.33 114.79 672.67 109.79 676.00 106.25 C679.33 102.71 683.08 99.46 686.00 97.50 C688.92 95.54 690.58 94.83 693.50 94.50 C696.42 94.17 699.75 95.42 703.50 95.50 C707.25 95.58 712.46 95.71 716.00 95.00 C719.54 94.29 722.25 92.29 724.75 91.25 C727.25 90.21 728.33 89.47 731.00 88.75 C733.67 88.03 737.07 87.41 740.80 86.90 C744.53 86.39 748.87 86.33 753.40 85.70 C757.93 85.07 762.70 83.98 768.00 83.10 C773.30 82.22 780.65 81.00 785.20 80.40 C789.75 79.80 793.47 78.57 795.30 79.50 C797.13 80.43 795.92 86.25 796.20 86.00 C796.48 85.75 796.70 77.67 797.00 78.00 C797.30 78.33 797.67 87.67 798.00 88.00 C798.33 88.33 798.67 79.83 799.00 80.00 C799.33 80.17 799.58 88.33 800.00 89.00 C800.42 89.67 801.00 83.83 801.50 84.00 C802.00 84.17 802.15 88.40 803.00 90.00 C803.85 91.60 804.95 93.95 806.60 93.60 C808.25 93.25 810.17 89.68 812.90 87.90 C815.63 86.12 819.22 84.15 823.00 82.90 C826.78 81.65 829.30 80.82 835.60 80.40 C841.90 79.98 854.93 79.98 860.80 80.40 C866.67 80.82 867.65 82.07 870.80 82.90 C873.95 83.73 877.50 84.67 879.70 85.40 C881.90 86.13 883.08 86.28 884.00 87.30 C884.92 88.32 885.00 90.80 885.20 91.50" fill="none" stroke="#FF0000" stroke-width="2.4" stroke-linejoin="round" stroke-linecap="round"/>
<path d="M905.30 108.70 C906.28 107.52 908.65 104.35 911.20 101.60 C913.75 98.85 917.45 94.37 920.60 92.20 C923.75 90.03 926.93 89.38 930.10 88.60 C933.27 87.82 937.23 87.68 939.60 87.50 C941.97 87.32 942.73 86.72 944.30 87.50 C945.87 88.28 947.43 89.45 949.00 92.20 C950.57 94.95 952.32 101.05 953.70 104.00 C955.08 106.95 955.32 108.92 957.30 109.90 C959.28 110.88 963.03 108.52 965.60 109.90 C968.17 111.28 970.73 116.42 972.70 118.20 C974.67 119.98 975.43 120.13 977.40 120.60 C979.37 121.07 981.95 120.22 984.50 121.00 C987.05 121.78 991.33 124.58 992.70 125.30" fill="none" stroke="#FF0000" stroke-width="2.4" stroke-linejoin="round" stroke-linecap="round"/>
<path d="M606.00 280.70 C607.15 280.23 610.83 279.28 612.90 277.90 C614.97 276.52 616.27 274.70 618.40 272.40 C620.53 270.10 623.10 266.70 625.70 264.10 C628.30 261.50 631.85 259.25 634.00 256.80 C636.15 254.35 636.92 252.02 638.60 249.40 C640.28 246.78 642.42 242.78 644.10 241.10 C645.78 239.42 646.87 240.22 648.70 239.30 C650.53 238.38 653.10 236.67 655.10 235.60 C657.10 234.53 658.85 233.42 660.70 232.90 C662.55 232.38 664.73 232.97 666.20 232.50 C667.67 232.03 668.73 231.57 669.50 230.10 C670.27 228.63 670.50 225.72 670.80 223.70 C671.10 221.68 671.06 221.12 671.30 218.00 C671.54 214.88 671.80 208.83 672.25 205.00 C672.70 201.17 673.38 198.75 674.00 195.00 C674.62 191.25 675.25 187.08 676.00 182.50 C676.75 177.92 677.67 172.92 678.50 167.50 C679.33 162.08 680.17 154.17 681.00 150.00 C681.83 145.83 682.25 145.42 683.50 142.50 C684.75 139.58 687.15 134.92 688.50 132.50 C689.85 130.08 689.82 130.67 691.60 128.00 C693.38 125.33 696.88 119.88 699.20 116.50 C701.52 113.12 703.20 110.42 705.50 107.70 C707.80 104.98 710.90 102.08 713.00 100.20 C715.10 98.32 716.42 97.57 718.10 96.40 C719.78 95.23 721.63 94.67 723.10 93.20 C724.57 91.73 725.70 89.13 726.90 87.60 C728.10 86.07 728.90 85.67 730.30 84.00 C731.70 82.33 733.62 79.62 735.30 77.60 C736.98 75.58 738.50 73.68 740.40 71.90 C742.30 70.12 744.60 68.37 746.70 66.90 C748.80 65.43 751.53 63.32 753.00 63.10 C754.47 62.88 754.45 64.62 755.50 65.60 C756.55 66.58 757.83 68.43 759.30 69.00 C760.77 69.57 762.83 69.35 764.30 69.00 C765.77 68.65 766.63 68.52 768.10 66.90 C769.57 65.28 771.42 61.72 773.10 59.30 C774.78 56.88 776.52 54.35 778.20 52.40 C779.88 50.45 781.73 48.48 783.20 47.60 C784.67 46.72 785.73 46.52 787.00 47.10 C788.27 47.68 789.55 48.97 790.80 51.10 C792.05 53.23 793.45 57.38 794.50 59.90 C795.55 62.42 796.47 63.88 797.10 66.20 C797.73 68.52 797.93 70.83 798.30 73.80 C798.67 76.77 798.97 80.88 799.30 84.00 C799.63 87.12 799.90 89.17 800.30 92.50 C800.70 95.83 801.27 100.30 801.70 104.00 C802.13 107.70 802.40 109.87 802.90 114.70 C803.40 119.53 803.95 127.50 804.70 133.00 C805.45 138.50 806.48 143.72 807.40 147.70 C808.32 151.68 808.97 154.42 810.20 156.90 C811.43 159.38 813.43 161.98 814.80 162.60 C816.17 163.22 817.03 162.47 818.40 160.60 C819.77 158.73 821.36 155.67 823.00 151.40 C824.64 147.13 826.33 140.23 828.25 135.00 C830.17 129.77 833.04 123.33 834.50 120.00 C835.96 116.67 835.83 117.50 837.00 115.00 C838.17 112.50 840.05 108.25 841.50 105.00 C842.95 101.75 844.17 98.67 845.70 95.50 C847.23 92.33 849.33 88.15 850.70 86.00 C852.07 83.85 852.85 82.80 853.90 82.60 C854.95 82.40 855.43 82.87 857.00 84.80 C858.57 86.73 861.80 92.17 863.30 94.20 C864.80 96.23 865.17 96.43 866.00 97.00 C866.83 97.57 867.07 96.70 868.30 97.60 C869.53 98.50 871.72 101.28 873.40 102.40 C875.08 103.52 876.83 104.40 878.40 104.30 C879.97 104.20 881.75 103.02 882.80 101.80 C883.85 100.58 884.25 98.05 884.70 97.00 C885.15 95.95 885.37 95.75 885.50 95.50" fill="none" stroke="#00B050" stroke-width="2.4" stroke-linejoin="round" stroke-linecap="round"/>
<path d="M905.40 216.20 C905.93 215.50 907.20 214.63 908.60 212.00 C910.00 209.37 912.23 203.73 913.80 200.40 C915.37 197.07 916.95 194.45 918.00 192.00 C919.05 189.55 919.22 187.27 920.10 185.70 C920.98 184.13 921.55 182.42 923.30 182.60 C925.05 182.78 928.50 186.28 930.60 186.80 C932.70 187.32 933.45 187.45 935.90 185.70 C938.35 183.95 942.68 178.75 945.30 176.30 C947.92 173.85 949.50 172.78 951.60 171.00 C953.70 169.22 956.32 166.30 957.90 165.60 C959.48 164.90 960.05 165.55 961.10 166.80 C962.15 168.05 962.98 169.68 964.20 173.10 C965.42 176.52 967.00 183.97 968.40 187.30 C969.80 190.63 971.20 191.08 972.60 193.10 C974.00 195.12 975.05 197.68 976.80 199.40 C978.55 201.12 981.35 202.70 983.10 203.40 C984.85 204.10 985.72 202.98 987.30 203.60 C988.88 204.22 991.72 206.52 992.60 207.10" fill="none" stroke="#00B050" stroke-width="2.4" stroke-linejoin="round" stroke-linecap="round"/>
</svg>
</body></html>
